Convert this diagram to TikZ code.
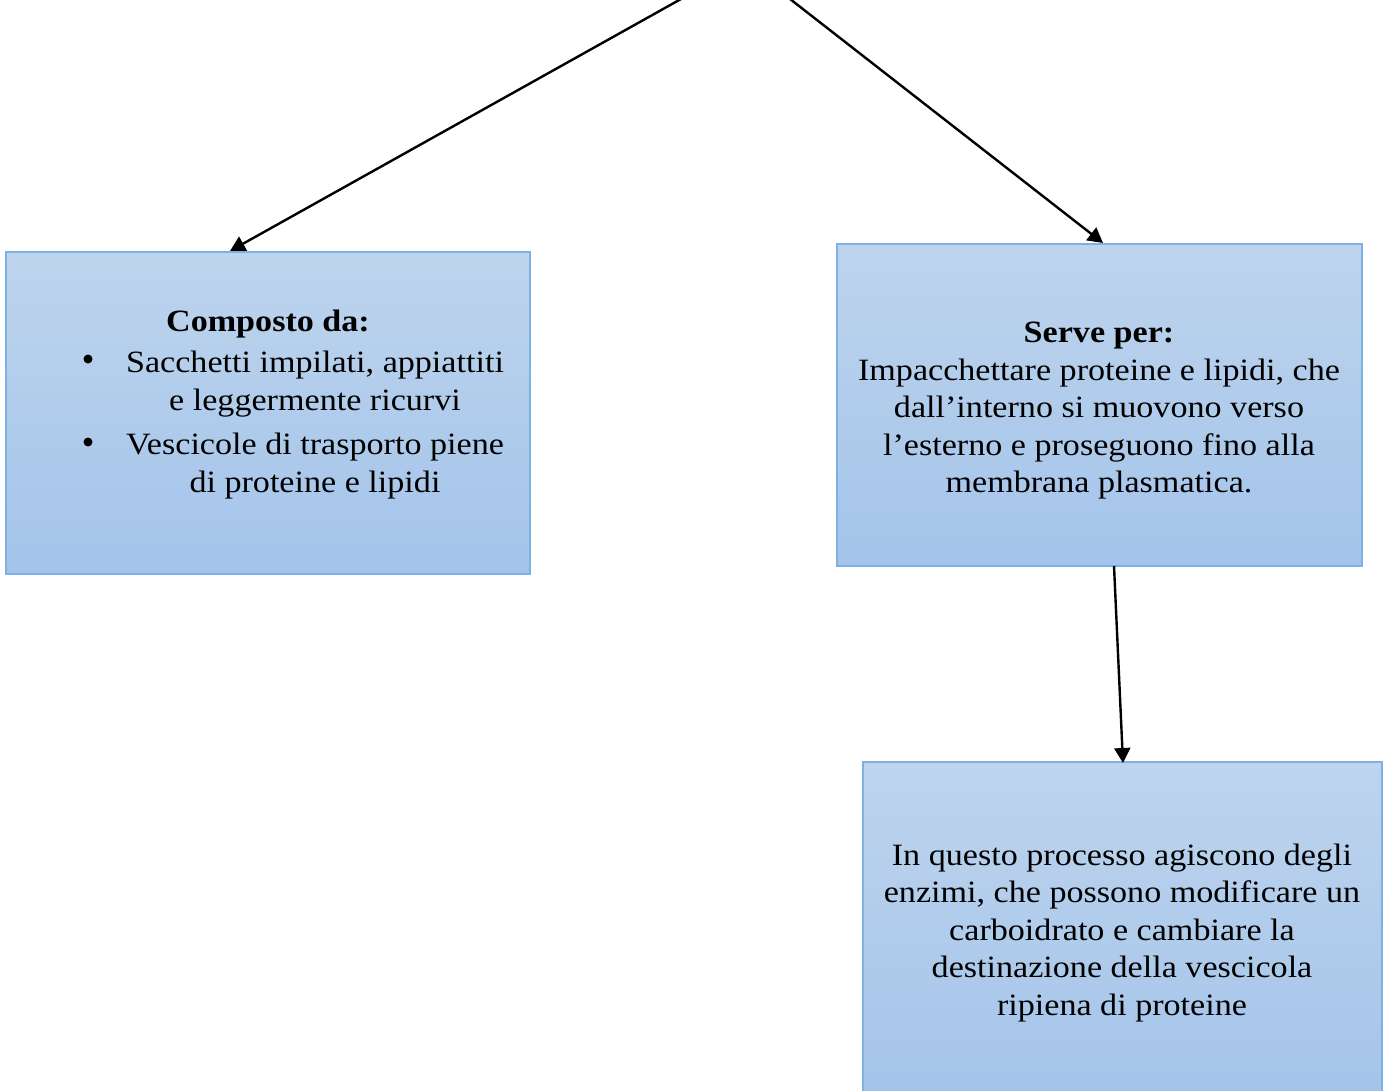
\documentclass[tikz,border=0pt]{standalone}
\usepackage{fontspec}
\setmainfont{Liberation Serif}[FakeStretch=1.1]
\usetikzlibrary{arrows.meta}
\tikzset{
  box/.style={draw=boxedge, line width=1.1pt, top color=boxtop, bottom color=boxbot, shade, inner sep=0pt},
  conn/.style={draw=black, line width=2.4pt, -{Triangle[length=15pt,width=16pt]}},
  txt/.style={font=\fontsize{31}{37.5}\selectfont, align=center, inner sep=0pt},
  dotmark/.style={circle, fill=black, minimum size=9pt, inner sep=0pt}
}
\definecolor{boxtop}{HTML}{BED4ED}
\definecolor{boxbot}{HTML}{A3C4EA}
\definecolor{boxedge}{HTML}{7DB0E4}
\begin{document}
\begin{tikzpicture}[x=1pt,y=-1pt]
\useasboundingbox[fill=white] (0,0) rectangle (1383,1090);
% boxes
\path[box] (6,252) rectangle (530,574);
\path[box] (837,244) rectangle (1362,566);
\path[box] (863,762) rectangle (1382,1100);
\node (Rt) [txt] at (1099,411) {\textbf{Serve per:}\\Impacchettare proteine e lipidi, che\\dall’interno si muovono verso\\l’esterno e proseguono fino alla\\membrana plasmatica.};
\node (Bt) [txt] at (1122,933) {In questo processo agiscono degli\\enzimi, che possono modificare un\\carboidrato e cambiare la\\destinazione della vescicola\\ripiena di proteine};
\node (Lh) [txt] at (268,324) {\textbf{Composto da:}};
\node (Lb1) [dotmark] at (88,359) {};
\node (Lb2) [dotmark] at (88,442) {};
\node (L1) [txt] at (315,384) {Sacchetti impilati, appiattiti\\e leggermente ricurvi};
\node (L2) [txt] at (315,466) {Vescicole di trasporto piene\\di proteine e lipidi};
% connectors
\coordinate (s1) at (681,-1);
\coordinate (s2) at (790,-1);
\coordinate (Ltip) at (230,251);
\coordinate (Rtip) at (1103,243);
\coordinate (Rb) at (1114,566);
\coordinate (Btip) at (1123,763);
\draw[conn] (s1) -- (Ltip);
\draw[conn] (s2) -- (Rtip);
\draw[conn] (Rb) -- (Btip);
\end{tikzpicture}
\end{document}
